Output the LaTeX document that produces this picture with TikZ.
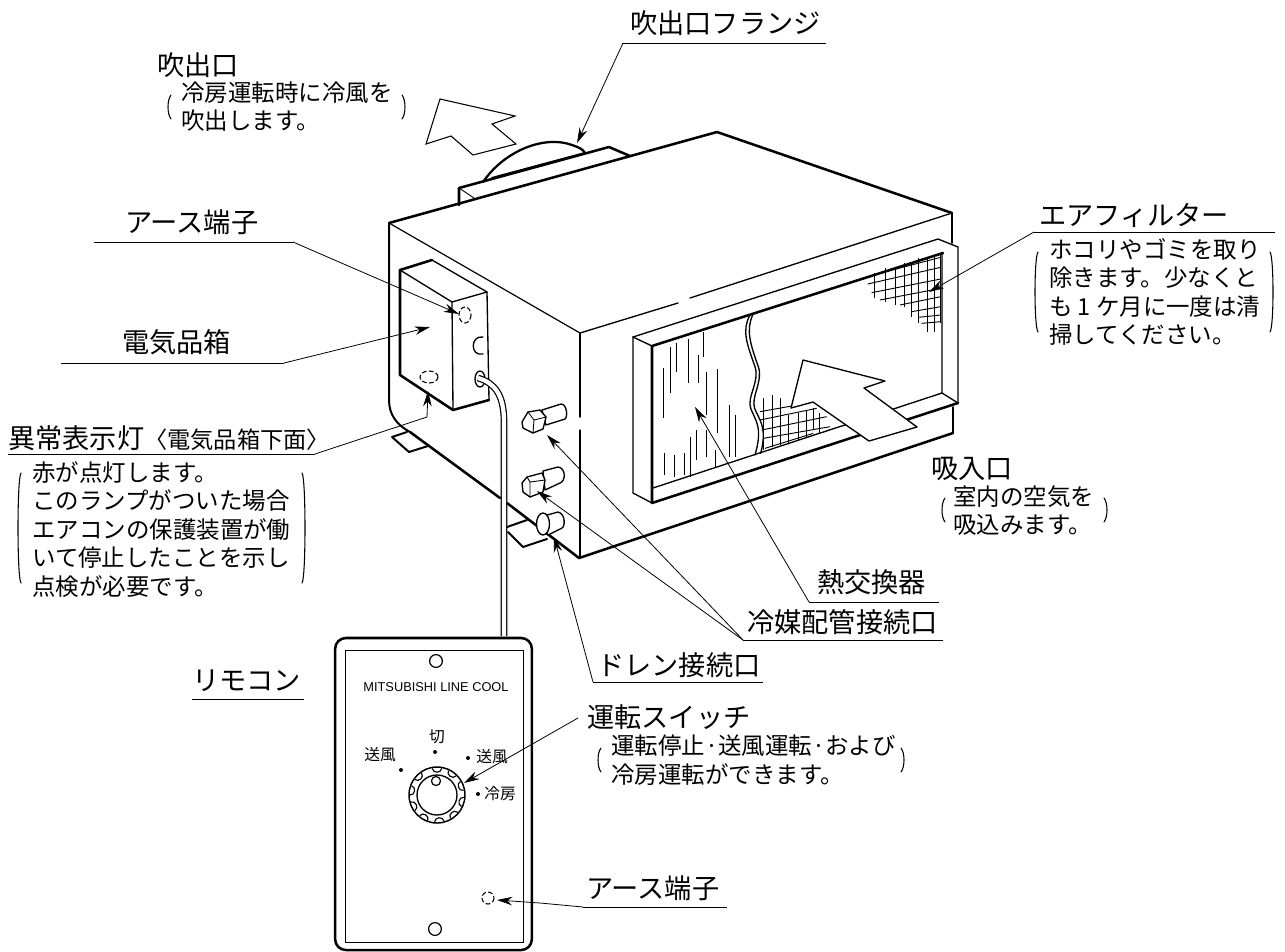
\documentclass[tikz,border=0pt]{standalone}
\usepackage{fontspec}
\setmainfont{Noto Sans CJK JP}
\newfontfamily\latinf{Liberation Sans}
\usetikzlibrary{arrows.meta}
\tikzset{
  big/.style={anchor=west,inner sep=0pt,font=\fontsize{20.4}{24}\selectfont,text height=17.9pt,text depth=2.5pt},
  desc/.style={anchor=north west,inner sep=0pt,align=left,font=\fontsize{17.6}{21.4}\selectfont},
  tiny/.style={inner sep=0pt,font=\fontsize{11.8}{14}\selectfont},
  thin line/.style={line width=0.65pt,line cap=round},
  med line/.style={line width=1.0pt,line cap=round,line join=round},
  heavy/.style={line width=1.9pt,line cap=round,line join=round},
  lead/.style={line width=0.6pt,-{Stealth[length=11.5pt,width=6.4pt]}},
  rule/.style={line width=0.75pt},
  hatch/.style={line width=0.7pt},
  dashring/.style={line width=0.8pt,dash pattern=on 3.5pt off 1.8pt},
  brk/.style={line width=0.8pt,line cap=round},
}
\begin{document}
\begin{tikzpicture}[x=0.75pt,y=-0.75pt]
\useasboundingbox (0,0) rectangle (1285,951);

% ---------- body
\draw[heavy] (389,223) -- (717,132) -- (952,213);
\draw[thin line,line width=0.9pt] (389,223) -- (580,333);
\draw[med line] (580,333) -- (678,303) (690,298) -- (952,213);
\draw[med line] (580,333) -- (580,417) (580,430) -- (580,558);
\draw[med line,line width=1.4pt] (952,213) -- (952,243) (953,407) -- (953,433);
\draw[med line,line width=1.5pt] (389,223) -- (389,400) .. controls (389,415) and (397,425) .. (410,432);
\draw[heavy] (410,432) -- (500,498) (507,503) -- (579,558) -- (953,433);
% flange
\draw[heavy] (459,205) -- (459,188) -- (609,147) -- (630,156);
\draw[thin line] (459,188) -- (474,198);
\draw[heavy,line width=1.6pt] (492,178) -- (585,153);
\draw[heavy,line width=1.7pt] (483,182) .. controls (505,150) and (545,135) .. (572,145) .. controls (578,147) and (583,149) .. (585,153);
% feet
\draw[heavy,line width=1.5pt] (407,432) -- (392,437) -- (409,452) -- (428,446);
\draw[heavy,line width=1.5pt] (507,527) -- (527,520) (508,532) -- (523,547) -- (547,539);

% ---------- electrical box
\draw[heavy] (400,270) -- (432,260);
\draw[med line] (432,260) -- (487,292) -- (452,302) -- (400,270);
\draw[heavy] (400,270) -- (400,375) -- (453,410) -- (489,400);
\draw[med line] (487,292) -- (489,400);
\draw[med line] (452,302) -- (453,410);
\draw[dashring] (465,315) ellipse [x radius=6,y radius=8];
\draw[dashring] (429,377) ellipse [x radius=9,y radius=6];
\draw[med line] (483,337) .. controls (470,335) and (470,357) .. (483,354);
\draw[med line] (480,379) ellipse [x radius=5,y radius=8];
% cable
\coordinate (cableStart) at (478,378);
\coordinate (cableEnd) at (504,636);
\draw[line width=0.9pt,double,double distance=3.2pt] (cableStart) .. controls (495,383) and (504,395) .. (504,422) -- (cableEnd);

% ---------- couplings
\draw[med line,fill=white] (542,410) -- (561,404) .. controls (567,404) and (568,417) .. (565,419) -- (546,425) -- cycle;
\draw[med line,fill=white] (522,422) -- (528,412) -- (540,410) -- (546,417) -- (543,429) -- (533,433) -- (523,428) -- cycle;
\draw[thin line] (528,412) -- (534,420) -- (546,417) (534,420) -- (533,433);
\draw[med line,fill=white] (543,471) -- (558,467) .. controls (566,468) and (566,481) .. (560,483) -- (545,490) -- cycle;
\draw[med line,fill=white] (522,483) -- (527,477) -- (542,473) -- (545,480) -- (543,492) -- (530,497) -- (523,492) -- cycle;
\draw[thin line] (527,477) -- (530,482) -- (545,480) (530,482) -- (530,497);
\draw[med line,fill=white] (540,517) -- (558,512) .. controls (566,514) and (565,527) .. (562,528) -- (548,535) -- cycle;
\draw[med line,fill=white] (543,524) ellipse [x radius=6.5,y radius=11];

% ---------- filter frame
\draw[med line] (633,337) -- (938,239) -- (958,247) -- (958,403);
\draw[med line] (633,337) -- (633,493) -- (652,503);
\draw[med line] (633,337) -- (652,346);
\draw[heavy] (652,346) -- (943,253);
\draw[heavy] (652,346) -- (652,503) -- (958,403);
\draw[med line] (653,488) -- (942,393) -- (942,253);
\draw[med line] (942,393) -- (958,403);

\begin{scope}[shift={(600,200)},x=0.25pt,y=-0.25pt]
  % wavy break
  \draw[med line] (450,345) .. controls (425,390) and (440,430) .. (465,500) .. controls (480,545) and (440,590) .. (452,625) .. controls (465,660) and (490,680) .. (465,765);
  \draw[med line] (458,345) .. controls (438,390) and (450,430) .. (475,500) .. controls (490,545) and (452,590) .. (464,625) .. controls (477,660) and (503,680) .. (482,760);
  % hatching of the coil
  \foreach \px/\pa/\pb in {190/505/655,210/440/580,230/428/515,265/418/548,295/465/550,310/395/470,320/515/645,352/507/700,388/615/770,405/645/770,270/710/830,288/690/780,318/690/770,345/750/800,193/758/825,222/765/830,252/758/825}
    \draw[hatch] (\px,\pa) -- (\px,\pb);
  % upper mesh
  \foreach \px/\pa/\pb in {822/220/295,855/205/305,885/200/315,912/190/320,935/185/350,955/175/370,982/170/395,1003/165/395,1022/160/370}
    \draw[hatch] (\px,\pa) -- (\px,\pb);
  \foreach \pa/\pb/\pc/\pd in {820/225/1022/172,803/252/1022/202,815/278/1022/237,840/300/1022/265,900/315/1022/290,935/335/1022/320,955/352/1022/345,965/370/1022/365}
    \draw[hatch] (\pa,\pb) -- (\pc,\pd);
  % lower mesh
  \foreach \px/\pa/\pb in {490/595/750,518/585/740,542/595/735,565/645/730,595/640/720,618/630/710,640/625/690,658/640/700}
    \draw[hatch] (\px,\pa) -- (\px,\pb);
  \foreach \pa/\pb/\pc/\pd in {480/635/575/618,480/660/650/625,485/690/680/650,490/715/690/680,495/745/640/700}
    \draw[hatch] (\pa,\pb) -- (\pc,\pd);
\end{scope}

% ---------- air arrows
\draw[med line,fill=white] (803,360) -- (885,381) -- (864,388) -- (917,427) -- (869,441) -- (813,402) -- (791,408) -- cycle;
\draw[thin line,line width=0.8pt,fill=white] (440,99) -- (515,116) -- (492,124) -- (516,144) -- (473,155) -- (451,136) -- (426,144) -- cycle;

% ---------- remote
\node[draw,rounded corners=8pt,line width=1.9pt,minimum width=147.5pt,minimum height=234pt] (remote) at (433.5,794) {};
\node[draw,line width=0.9pt,minimum width=133pt,minimum height=219.5pt] (panel) at (434.5,796.5) {};
\node[draw,circle,line width=0.9pt,minimum size=9.6pt,inner sep=0pt] (screwA) at (436,661) {};
\node[draw,circle,line width=0.9pt,minimum size=9.6pt,inner sep=0pt] (screwB) at (435,929) {};
\node[inner sep=0pt,font=\latinf\fontsize{9.6}{11}\selectfont] (brand) at (436,687) {MITSUBISHI LINE COOL};
\node[draw,circle,line width=1.1pt,minimum size=42pt,inner sep=0pt] (knobOuter) at (437,795) {};
\node[draw,circle,line width=1.0pt,minimum size=30pt,inner sep=0pt] (knobInner) at (437,795) {};
\node[draw,circle,line width=0.9pt,minimum size=6.8pt,inner sep=0pt,fill=white] (knobMark) at (436,781) {};
\begin{scope}[shift={(437,795)}]
  \foreach \a in {-90,-55,-20,15,50,85,120,155,190,225}
    \draw[line width=0.85pt] (\a-10:27) .. controls (\a-11:22) and (\a+11:22) .. (\a+10:27);
\end{scope}
\node[tiny] (knobOff) at (437,737) {切};
\node[tiny] (fanL) at (380,755) {送風};
\node[tiny] (fanR) at (492,757) {送風};
\node[tiny,anchor=west] (coolR) at (484,794) {冷房};
\fill (435,752) circle (2) (401,770) circle (2) (468,758) circle (2) (478,794) circle (2);
\draw[dashring] (488,898) circle (6);

% ---------- labels
\node[big] (tFlange) at (630,23) {吹出口フランジ};
\node[big] (tOutlet) at (157,65) {吹出口};
\node[desc] (dOutlet) at (181,81) {冷房運転時に冷風を\\吹出します。};
\node[big] (tEarth) at (125,222) {アース端子};
\node[big] (tBox) at (122,342) {電気品箱};
\node[inner sep=0pt,anchor=west,text height=17.9pt,text depth=2.5pt] (tLamp) at (8,438) {\fontsize{20.4}{24}\selectfont 異常表示灯\fontsize{17.4}{24}\selectfont 〈電気品箱下面〉};
\node[desc] (dLamp) at (32,461) {赤が点灯します。\\このランプがついた場合\\エアコンの保護装置が働\\いて停止したことを示し\\点検が必要です。};
\node[big] (tFilter) at (1039,215) {エアフィルター};
\node[desc] (dFilter) at (1049,238) {ホコリやゴミを取り\\除きます。少なくと\\も\hspace{.22em}1\hspace{.22em}ケ月に一度は清\\掃してください。};
\node[big] (tInlet) at (931,468) {吸入口};
\node[desc] (dInlet) at (953,485) {室内の空気を\\吸込みます。};
\node[big] (tCoil) at (817,582) {熱交換器};
\node[big] (tPipe) at (747,622) {冷媒配管接続口};
\node[big] (tDrain) at (597,665) {ドレン接続口};
\node[big] (tRemote) at (192,680) {リモコン};
\node[big] (tSwitch) at (587,717) {運転スイッチ};
\node[desc] (dSwitch) at (611,735) {運転停止·送風運転·および\\冷房運転ができます。};
\node[big] (tEarthB) at (586,888) {アース端子};

% ---------- brackets
\foreach \xa/\xb/\ya/\yb in {168/405/95/119,18/305/473/583,1035/1273/252/332,942/1107/498/522,598/904/748/772}{
  \draw[brk] (\xa+3,\ya) .. controls (\xa-1,\ya+5) and (\xa-1,\yb-5) .. (\xa+3,\yb);
  \draw[brk] (\xb-3,\ya) .. controls (\xb+1,\ya+5) and (\xb+1,\yb-5) .. (\xb-3,\yb);
}

% ---------- leaders
\coordinate (fA) at (826,43);  \coordinate (fB) at (623,43);  \coordinate (fTip) at (577,143);
\draw[rule] (fA) -- (fB);
\draw[lead] (fB) -- (fTip);

\coordinate (eA) at (94,242);  \coordinate (eB) at (293,242);  \coordinate (eTip) at (459,314);
\draw[rule] (eA) -- (eB);
\draw[lead] (eB) -- (eTip);

\coordinate (bA) at (61,363);  \coordinate (bB) at (284,363);  \coordinate (bTip) at (430,327);
\draw[rule] (bA) -- (bB);
\draw[lead] (bB) -- (bTip);

\coordinate (lA) at (8,454);  \coordinate (lB) at (315,454);  \coordinate (lC) at (427,417);  \coordinate (lTip) at (428,391);
\draw[rule] (lA) -- (lB);
\draw[lead] (lB) -- (lC) -- (lTip);

\coordinate (aA) at (1275,232);  \coordinate (aB) at (1034,232);  \coordinate (aTip) at (929,292);
\draw[rule] (aA) -- (aB);
\draw[lead] (aB) -- (aTip);

\coordinate (cA) at (939,602);  \coordinate (cB) at (809,602);  \coordinate (cTip) at (695,407);
\draw[rule] (cA) -- (cB);
\draw[lead] (cB) -- (cTip);

\coordinate (pA) at (943,640);  \coordinate (pB) at (743,640);  \coordinate (pTipA) at (547,435);  \coordinate (pTipB) at (537,491);
\draw[rule] (pA) -- (pB);
\draw[lead] (pB) -- (pTipA);
\draw[lead] (pB) -- (pTipB);

\coordinate (dA) at (763,682);  \coordinate (dB) at (593,682);  \coordinate (dTip) at (554,537);
\draw[rule] (dA) -- (dB);
\draw[lead] (dB) -- (dTip);

\coordinate (rA) at (192,699);  \coordinate (rB) at (304,699);
\draw[rule] (rA) -- (rB);

\coordinate (sA) at (578,718);  \coordinate (sTip) at (464,783);
\draw[lead] (sA) -- (sTip);

\coordinate (gA) at (727,907);  \coordinate (gB) at (583,907);  \coordinate (gC) at (540,903);  \coordinate (gTip) at (497,900);
\draw[rule] (gA) -- (gB);
\draw[lead] (gB) -- (gC) -- (gTip);
\end{tikzpicture}
\end{document}
